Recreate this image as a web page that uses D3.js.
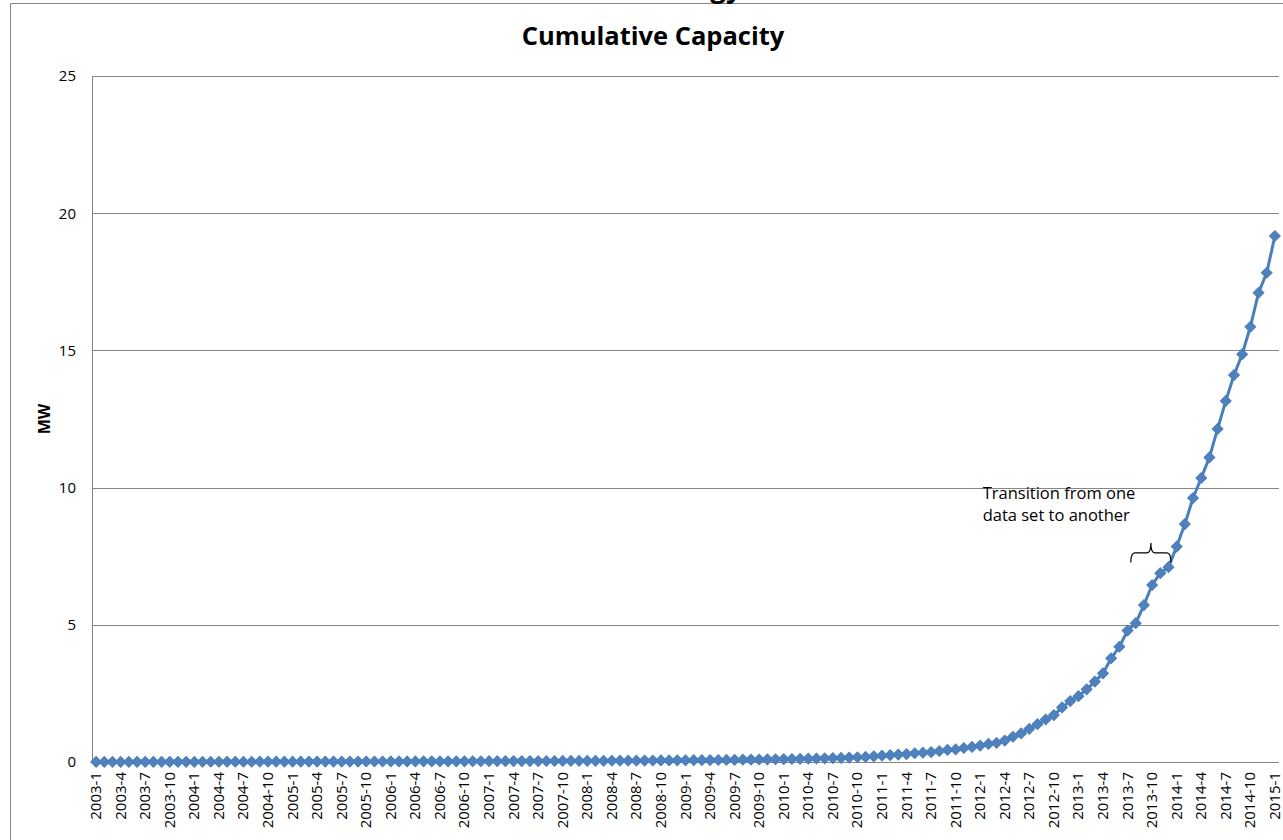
<!DOCTYPE html>
<html>
<head>
<meta charset="utf-8">
<script src="https://cdn.jsdelivr.net/npm/d3@7"></script>
<style>
  html, body { margin: 0; padding: 0; background: #fff; overflow: hidden; }
  svg { display: block; font-family: "Open Sans", "Noto Sans", sans-serif; }
</style>
</head>
<body>
<svg id="chart" width="1283" height="840"></svg>
<script>
// Monthly categories, 2003-1 .. 2015-1
const years = [2003, 2004, 2005, 2006, 2007, 2008, 2009, 2010, 2011, 2012, 2013, 2014, 2015];
const months = [1, 2, 3, 4, 5, 6, 7, 8, 9, 10, 11, 12];

// Cumulative installed capacity (MW), one value per month
const capacity = [
  0.003, 0.003, 0.004, 0.004, 0.004, 0.005, 0.005, 0.005, 0.006, 0.006, 0.006, 0.007,
  0.007, 0.008, 0.008, 0.008, 0.009, 0.009, 0.010, 0.010, 0.011, 0.011, 0.012, 0.012,
  0.013, 0.013, 0.014, 0.014, 0.015, 0.016, 0.016, 0.017, 0.017, 0.018, 0.019, 0.019,
  0.020, 0.021, 0.021, 0.022, 0.023, 0.023, 0.024, 0.025, 0.026, 0.026, 0.027, 0.028,
  0.029, 0.030, 0.031, 0.032, 0.033, 0.034, 0.035, 0.036, 0.037, 0.038, 0.039, 0.040,
  0.041, 0.043, 0.044, 0.046, 0.047, 0.049, 0.050, 0.052, 0.054, 0.056, 0.058, 0.060,
  0.062, 0.065, 0.068, 0.071, 0.074, 0.077, 0.080, 0.084, 0.088, 0.092, 0.096, 0.100,
  0.105, 0.110, 0.116, 0.122, 0.128, 0.135, 0.142, 0.150, 0.160, 0.172, 0.186, 0.205,
  0.23, 0.25, 0.27, 0.29, 0.32, 0.34, 0.36, 0.40, 0.44, 0.46, 0.51, 0.55,
  0.60, 0.66, 0.70, 0.78, 0.92, 1.04, 1.21, 1.38, 1.55, 1.71, 1.99, 2.22,
  2.40, 2.65, 2.93, 3.23, 3.78, 4.20, 4.79, 5.06, 5.72, 6.45, 6.88, 7.10,
  7.85, 8.67, 9.62, 10.35, 11.10, 12.14, 13.16, 14.10, 14.86, 15.86, 17.10, 17.83,
  19.17
];

const yTicks = [0, 5, 10, 15, 20, 25];
const labelStep = 3; // every third month gets a label

const categories = [];
years.forEach(yr => months.forEach(m => {
  if (categories.length < capacity.length) categories.push(yr + "-" + m);
}));
const xLabels = categories.filter((c, i) => i % labelStep === 0);

// Annotation: bracket over the months where the source data changes
const noteLines = ["Transition from one", "data set to another"];
const brace = { from: 126.4, to: 131.3, base: 7.27, bar: 7.62, peak: 7.98 };
const noteAt = { index: 108.3, value: 9.6 };

const svg = d3.select("#chart");
const W = 1283, H = 840;
const plot = { left: 92, right: 1279, top: 76, bottom: 762 };

const gridColor = "#868686";
const lineColor = "#4A7EBB";
const markColor = "#4F81BD";

// Outer chart border (only left/top edges fall inside the frame)
svg.append("path")
  .attr("d", `M10.5,${H} L10.5,3.5 L${W},3.5`)
  .attr("fill", "none").attr("stroke", gridColor).attr("stroke-width", 1);

// Heading above the chart title, mostly outside the frame
svg.append("text")
  .attr("x", 742).attr("y", -3)
  .attr("text-anchor", "end")
  .attr("font-weight", "bold").attr("font-size", 28)
  .text("Energy");

const x = d3.scalePoint().domain(categories).range([plot.left, plot.right]).padding(0.5);
const xi = d3.scaleLinear().domain([0, categories.length - 1])
  .range([x(categories[0]), x(categories[categories.length - 1])]);
const y = d3.scaleLinear().domain([0, 25]).range([plot.bottom, plot.top]);

// Title
svg.append("text")
  .attr("x", 653).attr("y", 45)
  .attr("text-anchor", "middle")
  .attr("font-weight", "bold").attr("font-size", 25.5)
  .text("Cumulative Capacity");

// Horizontal gridlines + y labels
const yAxis = svg.append("g")
  .attr("transform", `translate(${plot.left},0)`)
  .call(d3.axisLeft(y).tickValues(yTicks).tickSize(-(plot.right - plot.left)).tickPadding(16).tickFormat(d3.format("d")));
yAxis.select(".domain").remove();
yAxis.selectAll(".tick line").attr("stroke", gridColor).attr("shape-rendering", "crispEdges");
yAxis.selectAll(".tick text")
  .attr("font-family", "'Open Sans', sans-serif")
  .attr("font-size", 15).attr("fill", "#000");

// Vertical axis line
svg.append("line")
  .attr("x1", plot.left + 0.5).attr("x2", plot.left + 0.5)
  .attr("y1", plot.top).attr("y2", plot.bottom)
  .attr("stroke", gridColor);

// Category axis with rotated labels
const xAxis = svg.append("g")
  .attr("transform", `translate(0,${plot.bottom})`)
  .call(d3.axisBottom(x).tickValues(xLabels).tickSize(0));
xAxis.select(".domain").attr("stroke", gridColor)
  .attr("d", `M${plot.left},0.5H${plot.right}`);
xAxis.selectAll(".tick text")
  .attr("font-family", "'Open Sans', sans-serif")
  .attr("font-size", 15).attr("fill", "#000")
  .attr("text-anchor", "end")
  .attr("transform", "rotate(-90)")
  .attr("x", -10).attr("y", 0).attr("dy", "0.3em");

// Y axis title
svg.append("text")
  .attr("transform", `translate(50,${(plot.top + plot.bottom) / 2}) rotate(-90)`)
  .attr("text-anchor", "middle")
  .attr("font-weight", "bold").attr("font-size", 16)
  .text("MW");

// Series line
const line = d3.line().x((d, i) => x(categories[i])).y(d => y(d));
svg.append("path")
  .datum(capacity)
  .attr("d", line)
  .attr("fill", "none")
  .attr("stroke", lineColor)
  .attr("stroke-width", 3)
  .attr("stroke-linejoin", "round");

// Diamond markers
const diamond = d3.symbol().type(d3.symbolSquare).size(58);
svg.append("g").selectAll("path")
  .data(capacity)
  .join("path")
  .attr("d", diamond)
  .attr("transform", (d, i) => `translate(${x(categories[i])},${y(d)}) rotate(45)`)
  .attr("fill", markColor)
  .attr("stroke", lineColor)
  .attr("stroke-width", 1);

// Bracket annotation
const bx0 = xi(brace.from), bx1 = xi(brace.to), bxm = (bx0 + bx1) / 2;
const yb = y(brace.base), yr = y(brace.bar), yp = y(brace.peak);
svg.append("path")
  .attr("d", `M${bx0},${yb} Q${bx0},${yr} ${bx0 + 4},${yr} L${bxm - 4},${yr} Q${bxm},${yr} ${bxm},${yp}` +
             ` Q${bxm},${yr} ${bxm + 4},${yr} L${bx1 - 4},${yr} Q${bx1},${yr} ${bx1},${yb}`)
  .attr("fill", "none").attr("stroke", "#000").attr("stroke-width", 1.2);

const note = svg.append("text")
  .attr("x", xi(noteAt.index)).attr("y", y(noteAt.value))
  .attr("font-size", 16.5).attr("fill", "#000");
noteLines.forEach((t, i) => {
  note.append("tspan").attr("x", xi(noteAt.index)).attr("dy", i === 0 ? 0 : 22).text(t);
});
</script>
</body>
</html>
